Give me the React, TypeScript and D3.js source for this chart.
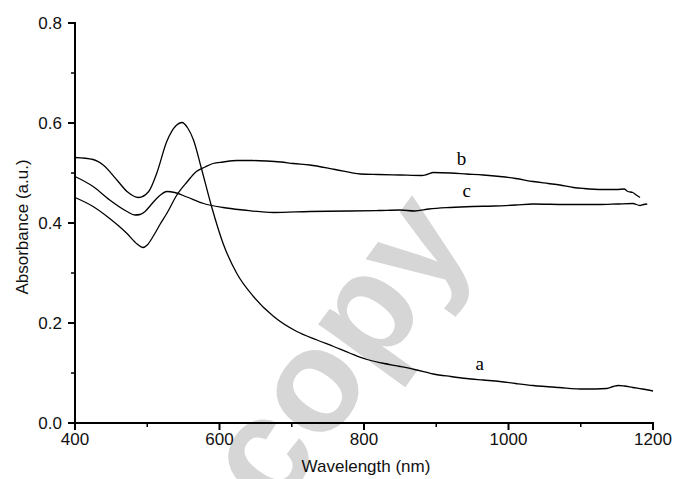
import React from "react";
import * as d3 from "d3";

const xTicksMajor = [400, 600, 800, 1000, 1200];
const xTicksMinor = [500, 700, 900, 1100];
const yTicksMajor = [0.0, 0.2, 0.4, 0.6, 0.8];
const yTicksMinor = [0.1, 0.3, 0.5, 0.7];

const waveA = [400, 425, 439, 458, 472, 488, 502, 513, 527, 540, 548, 556, 564, 575, 589, 605, 624, 647, 675, 707, 735, 758, 780, 804, 825, 850, 870, 896, 920, 942, 965, 988, 1010, 1034, 1070, 1104, 1136, 1145, 1152, 1160, 1172, 1185, 1200];
const absA = [0.531, 0.527, 0.516, 0.486, 0.463, 0.451, 0.463, 0.499, 0.563, 0.595, 0.601, 0.59, 0.566, 0.509, 0.433, 0.359, 0.299, 0.253, 0.213, 0.183, 0.166, 0.153, 0.14, 0.127, 0.12, 0.113, 0.107, 0.098, 0.093, 0.089, 0.086, 0.083, 0.079, 0.075, 0.071, 0.068, 0.069, 0.073, 0.075, 0.074, 0.071, 0.068, 0.064];

const waveB = [400, 425, 448, 472, 486, 494, 500, 508, 518, 527, 541, 555, 568, 580, 591, 605, 624, 645, 665, 685, 702, 725, 760, 795, 820, 850, 880, 887, 896, 920, 942, 965, 988, 1010, 1034, 1055, 1071, 1090, 1104, 1130, 1150, 1160, 1165, 1172, 1178, 1182];
const absB = [0.451, 0.433, 0.409, 0.379, 0.358, 0.351, 0.356, 0.373, 0.398, 0.419, 0.456, 0.482, 0.503, 0.512, 0.519, 0.522, 0.525, 0.525, 0.524, 0.522, 0.519, 0.516, 0.507, 0.498, 0.497, 0.496, 0.495, 0.497, 0.501, 0.5, 0.498, 0.496, 0.493, 0.489, 0.483, 0.479, 0.476, 0.471, 0.469, 0.467, 0.467, 0.468, 0.463, 0.461, 0.455, 0.451];

const waveC = [400, 425, 448, 472, 483, 490, 497, 505, 513, 520, 527, 538, 555, 578, 605, 633, 675, 725, 780, 820, 850, 870, 890, 919, 950, 980, 1010, 1034, 1080, 1127, 1150, 1172, 1182, 1187, 1192];
const absC = [0.493, 0.473, 0.446, 0.423, 0.416, 0.417, 0.423, 0.436, 0.449, 0.458, 0.463, 0.461, 0.452, 0.439, 0.431, 0.426, 0.421, 0.423, 0.424, 0.425, 0.426, 0.424, 0.428, 0.431, 0.433, 0.434, 0.436, 0.438, 0.437, 0.437, 0.438, 0.439, 0.435, 0.437, 0.438];

const curveLabels = [
  { text: "a", wave: 960, abs: 0.106 },
  { text: "b", wave: 935, abs: 0.517 },
  { text: "c", wave: 942, abs: 0.452 },
];

const W = 675;
const H = 479;
const left = 75;
const right = 653;
const top = 23;
const bottom = 423;

export default function App() {
  const x = d3.scaleLinear().domain([400, 1200]).range([left, right]);
  const y = d3.scaleLinear().domain([0, 0.8]).range([bottom, top]);
  const line = d3
    .line<[number, number]>()
    .x((d) => x(d[0]))
    .y((d) => y(d[1]))
    .curve(d3.curveMonotoneX);
  const series = [
    waveA.map((w, i) => [w, absA[i]] as [number, number]),
    waveB.map((w, i) => [w, absB[i]] as [number, number]),
    waveC.map((w, i) => [w, absC[i]] as [number, number]),
  ];
  const sans = "'Liberation Sans', Arial, sans-serif";
  const fs = 17;
  return (
    <svg
      width={W}
      height={H}
      style={{ position: "absolute", left: 0, top: 0, background: "#fff" }}
    >
      <text
        x={0}
        y={0}
        transform="translate(334,348) rotate(-54)"
        textAnchor="middle"
        dominantBaseline="central"
        fontFamily={sans}
        fontWeight="bold"
        fontSize={146}
        fill="#d6d6d6"
      >
        copy
      </text>
      {series.map((s, i) => (
        <path key={i} d={line(s) || ""} fill="none" stroke="#000" strokeWidth={1.3} />
      ))}
      <line x1={left} x2={left} y1={top - 1} y2={bottom + 1} stroke="#000" strokeWidth={2} />
      <line x1={left - 1} x2={right + 1} y1={bottom} y2={bottom} stroke="#000" strokeWidth={2} />
      {xTicksMajor.map((t) => (
        <g key={"xm" + t}>
          <line x1={x(t)} x2={x(t)} y1={bottom} y2={bottom + 7} stroke="#000" strokeWidth={2} />
          <text x={x(t)} y={445} textAnchor="middle" fontFamily={sans} fontSize={fs} fill="#111">
            {t}
          </text>
        </g>
      ))}
      {xTicksMinor.map((t) => (
        <line key={"xn" + t} x1={x(t)} x2={x(t)} y1={bottom} y2={bottom + 4} stroke="#000" strokeWidth={1.5} />
      ))}
      {yTicksMajor.map((t) => (
        <g key={"ym" + t}>
          <line x1={left - 7} x2={left} y1={y(t)} y2={y(t)} stroke="#000" strokeWidth={2} />
          <text x={62} y={y(t) + 6} textAnchor="end" fontFamily={sans} fontSize={fs} fill="#111">
            {t.toFixed(1)}
          </text>
        </g>
      ))}
      {yTicksMinor.map((t) => (
        <line key={"yn" + t} x1={left - 4} x2={left} y1={y(t)} y2={y(t)} stroke="#000" strokeWidth={1.5} />
      ))}
      <text x={(left + right) / 2 + 2} y={472} textAnchor="middle" fontFamily={sans} fontSize={fs} fill="#111">
        Wavelength (nm)
      </text>
      <text
        transform={`translate(28,${(top + bottom) / 2 + 4}) rotate(-90)`}
        textAnchor="middle"
        fontFamily={sans}
        fontSize={fs}
        fill="#111"
      >
        Absorbance (a.u.)
      </text>
      {curveLabels.map((l) => (
        <text
          key={l.text}
          x={x(l.wave)}
          y={y(l.abs)}
          textAnchor="middle"
          fontFamily="'Liberation Serif', 'Times New Roman', serif"
          fontSize={19}
          fill="#000"
        >
          {l.text}
        </text>
      ))}
    </svg>
  );
}
